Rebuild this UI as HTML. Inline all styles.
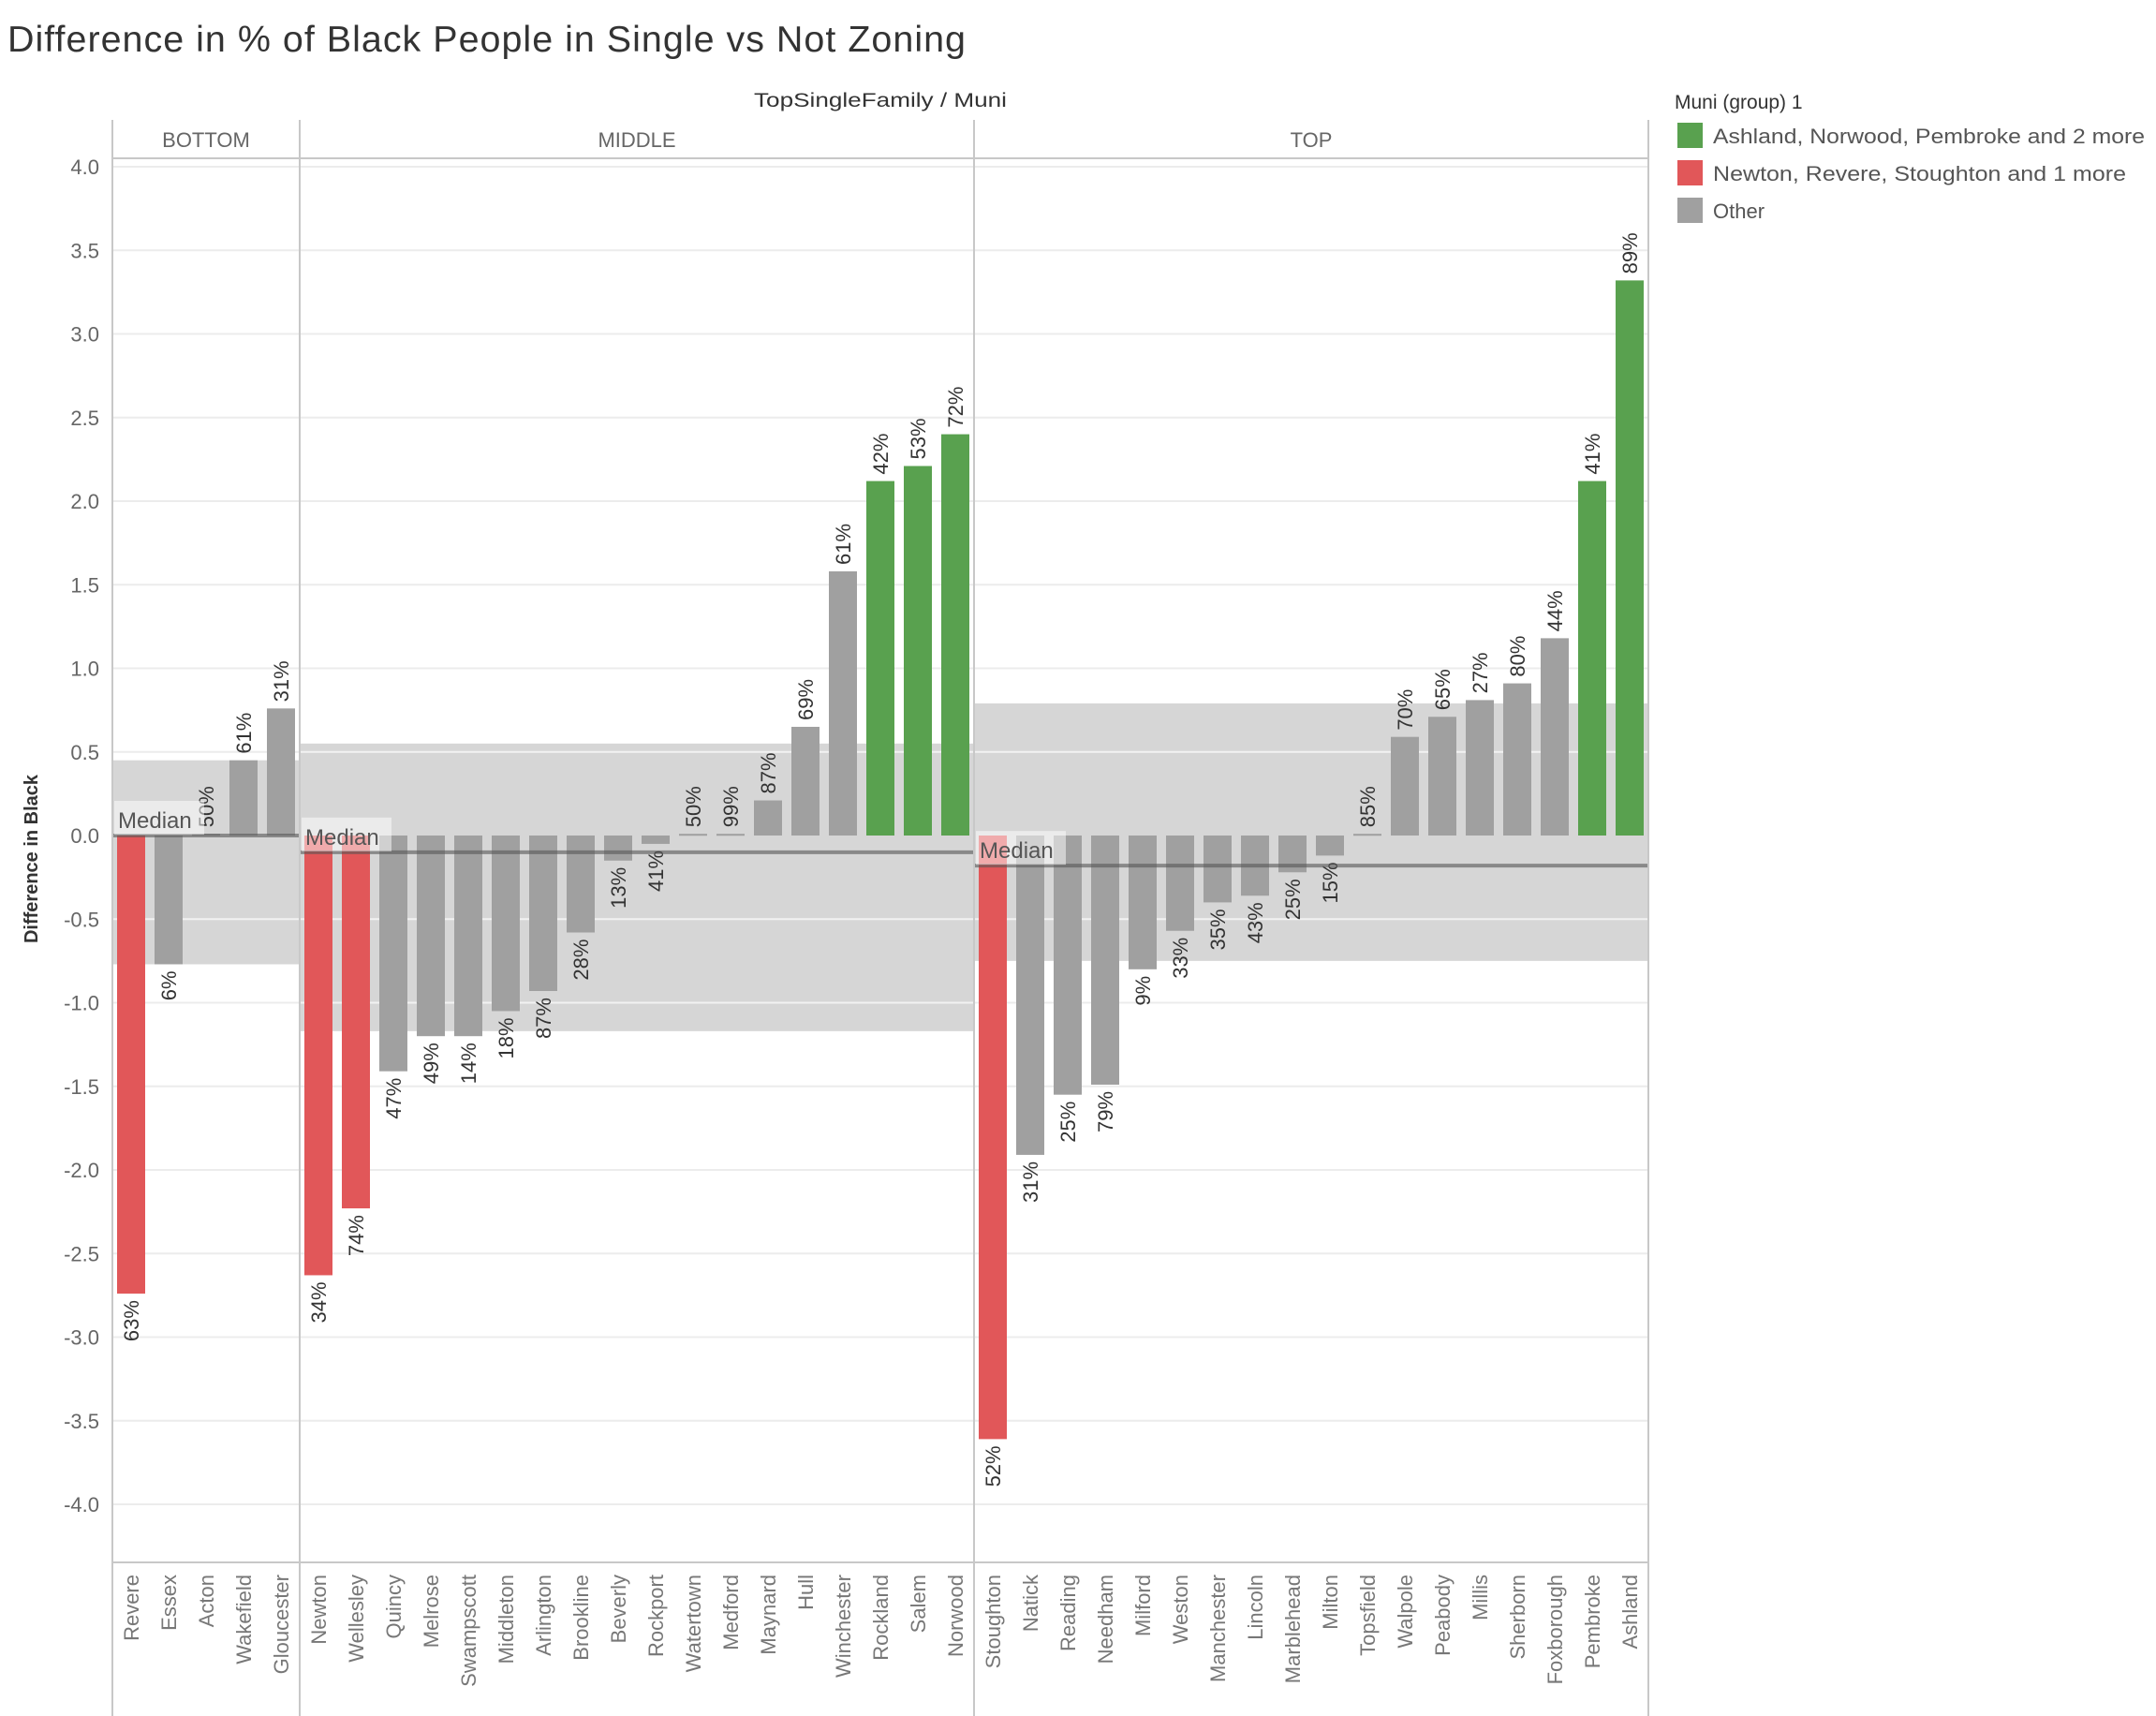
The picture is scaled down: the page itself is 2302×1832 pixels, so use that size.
<!DOCTYPE html>
<html><head><meta charset="utf-8"><style>
body{margin:0;background:#fff;}
svg{display:block;font-family:"Liberation Sans",sans-serif;}
</style></head><body>
<svg id="chart" width="2302" height="1832" viewBox="0 0 2302 1832" xmlns="http://www.w3.org/2000/svg">
<text x="8" y="55" font-size="39" fill="#333" letter-spacing="1" textLength="1024" lengthAdjust="spacingAndGlyphs">Difference in % of Black People in Single  vs Not Zoning</text>
<text x="940" y="114" font-size="21" fill="#333" text-anchor="middle" textLength="270" lengthAdjust="spacingAndGlyphs">TopSingleFamily / Muni</text>
<g id="grid"></g>
<g id="bands"></g>
<g id="bars"></g>
<g id="labels"></g>
<g id="frame"></g>
<g id="yaxis"></g>
<g id="xaxis"></g>
<text transform="translate(40,917) rotate(-90)" font-size="20" fill="#333" text-anchor="middle" font-weight="bold">Difference in Black</text>
<g>
<text x="1788" y="116" font-size="21" fill="#333">Muni (group) 1</text>
<rect x="1791" y="131" width="27" height="27" fill="#59a14f"/>
<text x="1829" y="153" font-size="22" fill="#555" textLength="461" lengthAdjust="spacingAndGlyphs">Ashland, Norwood, Pembroke and 2 more</text>
<rect x="1791" y="171" width="27" height="27" fill="#e15759"/>
<text x="1829" y="193" font-size="22" fill="#555" textLength="441" lengthAdjust="spacingAndGlyphs">Newton, Revere, Stoughton and 1 more</text>
<rect x="1791" y="211" width="27" height="27" fill="#a0a0a0"/>
<text x="1829" y="233" font-size="22" fill="#555">Other</text>
</g>
</svg>
<script>
const paneNames = ["BOTTOM","MIDDLE","TOP"];
const bottomMunis = ["Revere","Essex","Acton","Wakefield","Gloucester"];
const bottomValues = [-2.74,-0.77,0.01,0.45,0.76];
const bottomPct = ["63%","6%","50%","61%","31%"];
const middleMunis = ["Newton","Wellesley","Quincy","Melrose","Swampscott","Middleton","Arlington","Brookline","Beverly","Rockport","Watertown","Medford","Maynard","Hull","Winchester","Rockland","Salem","Norwood"];
const middleValues = [-2.63,-2.23,-1.41,-1.20,-1.20,-1.05,-0.93,-0.58,-0.15,-0.05,0.01,0.01,0.21,0.65,1.58,2.12,2.21,2.40];
const middlePct = ["34%","74%","47%","49%","14%","18%","87%","28%","13%","41%","50%","99%","87%","69%","61%","42%","53%","72%"];
const topMunis = ["Stoughton","Natick","Reading","Needham","Milford","Weston","Manchester","Lincoln","Marblehead","Milton","Topsfield","Walpole","Peabody","Millis","Sherborn","Foxborough","Pembroke","Ashland"];
const topValues = [-3.61,-1.91,-1.55,-1.49,-0.80,-0.57,-0.40,-0.36,-0.22,-0.12,0.01,0.59,0.71,0.81,0.91,1.18,2.12,3.32];
const topPct = ["52%","31%","25%","79%","9%","33%","35%","43%","25%","15%","85%","70%","65%","27%","80%","44%","41%","89%"];
const greenGroup = ["Ashland","Norwood","Pembroke","Rockland","Salem"];
const redGroup = ["Newton","Revere","Stoughton","Wellesley"];
const bandHigh = [0.45,0.55,0.79];
const bandLow = [-0.77,-1.17,-0.75];
const medians = [0.0,-0.10,-0.18];
const yTicks = [4,3.5,3,2.5,2,1.5,1,0.5,0,-0.5,-1,-1.5,-2,-2.5,-3,-3.5,-4];

const NS="http://www.w3.org/2000/svg";
const plotLeft=120, slot=40, plotTop=172, plotBottom=1668, right=1759;
const y0=892, perUnit=178.5;
function y(v){return y0 - v*perUnit;}
function mk(tag,attrs,parent,text){const e=document.createElementNS(NS,tag);for(const k in attrs)e.setAttribute(k,attrs[k]);if(text!==undefined)e.textContent=text;parent.appendChild(e);return e;}
const panes=[[bottomMunis,bottomValues,bottomPct],[middleMunis,middleValues,middlePct],[topMunis,topValues,topPct]];
const G={grid:document.getElementById('grid'),bands:document.getElementById('bands'),bars:document.getElementById('bars'),labels:document.getElementById('labels'),frame:document.getElementById('frame'),yaxis:document.getElementById('yaxis'),xaxis:document.getElementById('xaxis')};

yTicks.forEach(t=>{
  const l=mk('line',{x1:plotLeft,x2:right,y1:y(t),y2:y(t),stroke:'#ececec','stroke-width':2},G.grid);
  
  
  const tx=mk('text',{x:106,y:y(t)+8,'text-anchor':'end','font-size':22,fill:'#666'},G.yaxis,t.toFixed(1));
  
  
});

let start=0;
const paneX=[];
panes.forEach((p,pi)=>{
  const [names,vals,pcts]=p;
  const x0=plotLeft+start*slot, w=names.length*slot;
  paneX.push([x0,w]);
  const b=mk('rect',{x:x0,y:y(bandHigh[pi]),width:w,height:y(bandLow[pi])-y(bandHigh[pi]),fill:'#d6d6d6'},G.bands);
  
  
  [0.5,-0.5,-1].forEach(t=>{if(t<bandHigh[pi]&&t>bandLow[pi]){const gl=mk('line',{x1:x0,x2:x0+w,y1:y(t),y2:y(t),stroke:'#f2f2f2','stroke-width':2},G.bands);}});
  names.forEach((n,i)=>{
    const v=vals[i], cx=x0+i*slot+slot/2;
    const col=greenGroup.includes(n)?'#59a14f':redGroup.includes(n)?'#e15759':'#a0a0a0';
    const top=Math.min(y(v),y0), h=Math.max(Math.abs(y(v)-y0),2);
    const r=mk('rect',{x:cx-15,y:top,width:30,height:h,fill:col},G.bars);
    
    
    let lt;
    if(v>=0){lt=mk('text',{transform:`translate(${cx+8},${y(v)-7}) rotate(-90)`,'text-anchor':'start','font-size':22,fill:'#333'},G.labels,pcts[i]);}
    else{lt=mk('text',{transform:`translate(${cx+8},${y(v)+7}) rotate(-90)`,'text-anchor':'end','font-size':22,fill:'#333'},G.labels,pcts[i]);}
    
    
    const xl=mk('text',{transform:`translate(${cx+8},1681) rotate(-90)`,'text-anchor':'end','font-size':22,fill:'#777'},G.xaxis,n);
    
    
  });
  const ml=mk('line',{x1:x0,x2:x0+w,y1:y(medians[pi]),y2:y(medians[pi]),stroke:'#555','stroke-opacity':0.6,'stroke-width':4},G.labels);
  
  
  const mb=mk('rect',{x:x0+2,y:y(medians[pi])-37,width:96,height:36,fill:'#fff','fill-opacity':0.5},G.labels);
  
  
  const mt=mk('text',{x:x0+6,y:y(medians[pi])-8,'font-size':24,fill:'#555'},G.labels,'Median');
  
  
  const ph=mk('text',{x:x0+w/2,y:157,'text-anchor':'middle','font-size':22,fill:'#666'},G.frame,paneNames[pi]);
  
  
  start+=names.length;
});
function ln(x1,y1,x2,y2,name){const l=mk('line',{x1,y1,x2,y2,stroke:'#c8c8c8','stroke-width':2},G.frame);}
ln(plotLeft,128,plotLeft,1832,'pane-border');
paneX.forEach(([x0,w])=>ln(x0+w,128,x0+w,1832,'pane-border'));
ln(plotLeft,169,right,169,'header-border');
ln(plotLeft,plotBottom,right,plotBottom,'x-axis-line');
</script>
</body></html>
